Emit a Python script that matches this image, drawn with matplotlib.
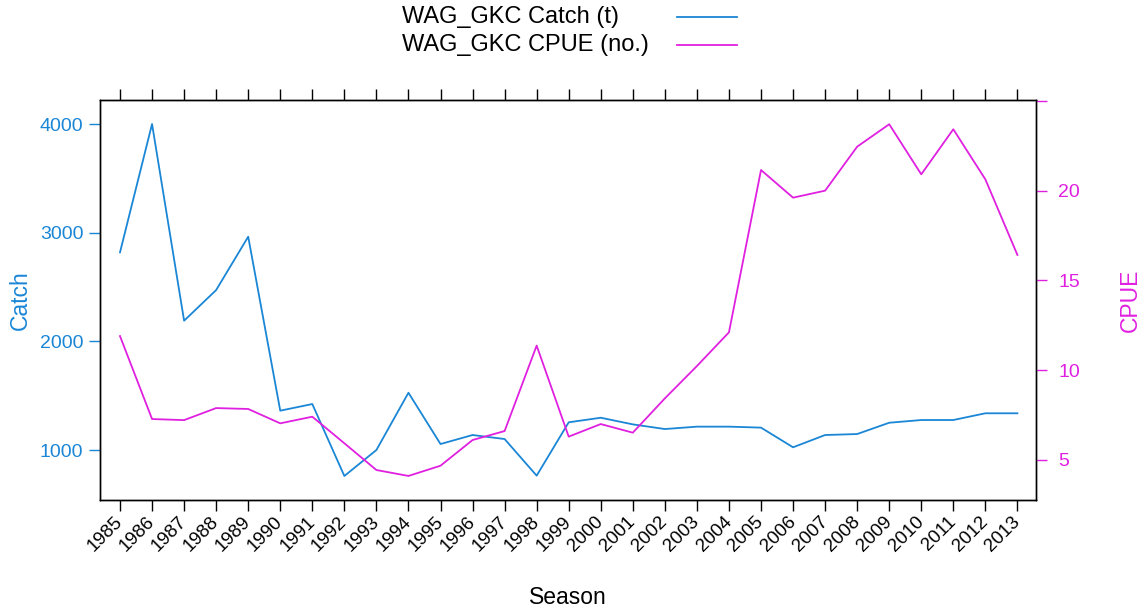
import matplotlib
matplotlib.use("Agg")
import matplotlib.pyplot as plt

plt.rcParams['font.family'] = ['Liberation Sans', 'DejaVu Sans']

years = list(range(1985, 2014))
catch = [2819, 4000, 2190, 2472, 2963, 1362, 1423, 761, 1000, 1527,
         1055, 1138, 1101, 764, 1255, 1297, 1236, 1193, 1215, 1215,
         1206, 1025, 1138, 1147, 1251, 1276, 1276, 1338, 1338]
cpue = [11.9, 7.28, 7.22, 7.89, 7.84, 7.04, 7.41, 5.93, 4.44, 4.11,
        4.68, 6.11, 6.61, 11.37, 6.30, 7.0, 6.52, 8.43, 10.23, 12.11,
        21.15, 19.61, 20.0, 22.45, 23.7, 20.91, 23.42, 20.63, 16.42]
catch_ticks = [1000, 2000, 3000, 4000]
cpue_ticks = [5, 10, 15, 20, 25]
cpue_ticklabels = ['5', '10', '15', '20', '']
legend_labels = ['WAG_GKC Catch (t)', 'WAG_GKC CPUE (no.)']

BLUE = '#1a86d6'
MAG = '#e020e0'

fig = plt.figure(figsize=(11.46, 6.12), dpi=100)
ax = fig.add_axes([100/1146, 1-500/612, 936/1146, 400/612])
ax2 = ax.twinx()

l1, = ax.plot(years, catch, color=BLUE, lw=1.3)
l2, = ax2.plot(years, cpue, color=MAG, lw=1.3)

ax.set_xlim(1984.376, 2013.58)
ax.set_ylim(540, 4221)
ax2.set_ylim(2.77, 25.05)

ax.set_xticks(years)
ax.set_xticklabels([str(y) for y in years], rotation=45, ha='right',
                   va='center', rotation_mode='anchor', fontsize=13.5)
ax.tick_params(axis='x', top=True, bottom=True, direction='out', length=8,
               width=1, pad=6, colors='black')
ax.set_yticks(catch_ticks)
ax.set_yticklabels([str(v) for v in catch_ticks])
ax.tick_params(axis='y', left=True, right=False, direction='out', length=8,
               width=1, colors=BLUE, labelsize=14, pad=4)
ax2.set_yticks(cpue_ticks)
ax2.set_yticklabels(cpue_ticklabels)
ax2.tick_params(axis='y', right=True, left=False, direction='out', length=8,
                width=1, colors=MAG, labelsize=14, pad=8)

for a in (ax, ax2):
    for s in a.spines.values():
        s.set_color('black')
        s.set_linewidth(1.0)

fig.text(20/1146, 1-300/612, 'Catch', rotation=90, color=BLUE, fontsize=16.5,
         ha='center', va='center')
fig.text(1130/1146, 1-300/612, 'CPUE', rotation=90, color=MAG, fontsize=16.5,
         ha='center', va='center')
fig.text(568/1146, 1-598/612, 'Season', color='black', fontsize=16.5,
         ha='center', va='center')

# legend (lattice-style key: text then line)
for i, (lab, col) in enumerate(zip(legend_labels, [BLUE, MAG])):
    yy = 1 - (17 + 28*i)/612
    fig.text(402/1146, yy, lab, fontsize=17, ha='left', va='center')
    fig.add_artist(plt.Line2D([677/1146, 737/1146], [yy, yy], color=col,
                              lw=1.3, transform=fig.transFigure))

fig.savefig('out.png', dpi=100)
